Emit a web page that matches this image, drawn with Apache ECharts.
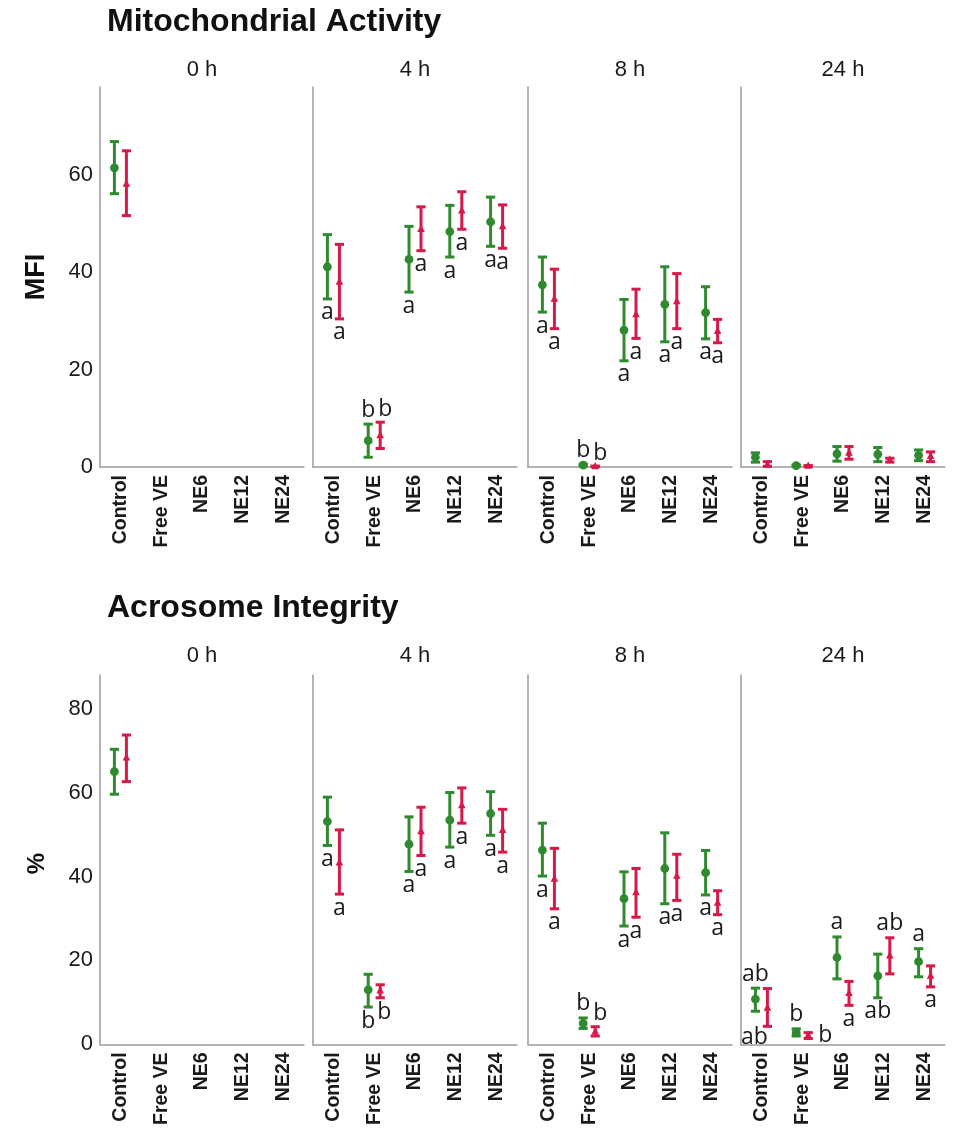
<!DOCTYPE html>
<html>
<head>
<meta charset="utf-8">
<script src="https://cdn.jsdelivr.net/npm/echarts@6/dist/echarts.min.js"></script>
<style>
  html, body { margin: 0; padding: 0; background: #fff; }
  #chart { width: 960px; height: 1128px; }
</style>
</head>
<body>
<div id="chart"></div>
<script>
// 类别与时间点
const categories = ['Control', 'Free VE', 'NE6', 'NE12', 'NE24'];
const timepoints = ['0 h', '4 h', '8 h', '24 h'];

// Mitochondrial Activity (MFI) — 每行一个时间点
const mitoGreenMean = [
  [61.4, null, null, null, null],
  [41.1, 5.4, 42.6, 48.3, 50.3],
  [37.4, 0.4, 28.1, 33.4, 31.7],
  [2.0, 0.3, 2.7, 2.6, 2.4]
];
const mitoGreenLow = [
  [56.1, null, null, null, null],
  [34.5, 2.0, 35.9, 43.1, 45.3],
  [31.8, 0.2, 21.8, 25.7, 26.3],
  [1.0, 0.2, 1.2, 1.1, 1.3]
];
const mitoGreenHigh = [
  [66.8, null, null, null, null],
  [47.7, 8.8, 49.4, 53.7, 55.4],
  [43.1, 0.6, 34.4, 41.1, 37.0],
  [2.9, 0.4, 4.2, 4.0, 3.5]
];
const mitoRedMean = [
  [58.1, null, null, null, null],
  [38.0, 6.5, 48.8, 52.6, 49.4],
  [34.5, 0.1, 31.3, 34.0, 27.9],
  [0.5, 0.2, 2.9, 1.5, 2.2]
];
const mitoRedLow = [
  [51.6, null, null, null, null],
  [30.4, 3.8, 44.4, 48.8, 44.9],
  [28.4, 0.05, 26.4, 28.4, 25.5],
  [0.15, 0.1, 1.6, 1.0, 1.1]
];
const mitoRedHigh = [
  [64.9, null, null, null, null],
  [45.7, 9.2, 53.4, 56.5, 53.8],
  [40.6, 0.2, 36.5, 39.7, 30.3],
  [1.1, 0.3, 4.2, 1.8, 3.1]
];
const mitoGreenLetters = [
  ['', '', '', '', ''],
  ['a', 'b', 'a', 'a', 'a'],
  ['a', 'b', 'a', 'a', 'a'],
  ['', '', '', '', '']
];
const mitoRedLetters = [
  ['', '', '', '', ''],
  ['a', 'b', 'a', 'a', 'a'],
  ['a', 'b', 'a', 'a', 'a'],
  ['', '', '', '', '']
];

// Acrosome Integrity (%)
const acroGreenMean = [
  [65.0, null, null, null, null],
  [53.1, 13.0, 47.7, 53.4, 55.0],
  [46.3, 5.0, 34.7, 41.9, 40.9],
  [10.8, 2.8, 20.7, 16.3, 19.7]
];
const acroGreenLow = [
  [59.6, null, null, null, null],
  [47.4, 8.9, 41.2, 47.0, 49.8],
  [40.1, 3.8, 28.2, 33.5, 35.6],
  [7.9, 2.0, 15.6, 11.1, 16.1]
];
const acroGreenHigh = [
  [70.3, null, null, null, null],
  [58.9, 16.7, 54.2, 60.0, 60.2],
  [52.7, 6.3, 41.1, 50.4, 46.2],
  [13.4, 3.7, 25.6, 21.5, 22.8]
];
const acroRedMean = [
  [68.3, null, null, null, null],
  [43.3, 12.8, 50.7, 56.9, 51.0],
  [39.4, 3.0, 36.2, 40.1, 33.7],
  [8.7, 2.2, 12.2, 21.1, 16.3]
];
const acroRedLow = [
  [62.6, null, null, null, null],
  [35.8, 11.1, 45.0, 52.7, 45.8],
  [32.3, 2.0, 30.3, 34.3, 30.9],
  [4.3, 1.4, 9.3, 16.8, 13.7]
];
const acroRedHigh = [
  [73.7, null, null, null, null],
  [51.1, 14.2, 56.5, 61.1, 56.0],
  [46.7, 4.2, 41.9, 45.3, 36.6],
  [13.3, 2.8, 15.0, 25.4, 18.7]
];
const acroGreenLetters = [
  ['', '', '', '', ''],
  ['a', 'b', 'a', 'a', 'a'],
  ['a', 'b', 'a', 'a', 'a'],
  ['ab', 'b', 'a', 'ab', 'a']
];
const acroRedLetters = [
  ['', '', '', '', ''],
  ['a', 'b', 'a', 'a', 'a'],
  ['a', 'b', 'a', 'a', 'a'],
  ['ab', 'b', 'a', 'ab', 'a']
];

// 字母标注的摆放方式（样式）
const mitoGreenPlace = [
  [], ['below', 'above', 'below', 'below', 'below'],
  ['below', 'above', 'below', 'below', 'below'], []
];
const mitoRedPlace = [
  [], ['below', 'aboveRight', 'below', 'below', 'below'],
  ['below', 'aboveRight', 'below', 'below', 'below'], []
];
const acroGreenPlace = [
  [], ['below', 'below', 'below', 'below', 'below'],
  ['below', 'above', 'below', 'below', 'below'],
  ['above', 'above', 'above', 'below', 'above']
];
const acroRedPlace = [
  [], ['below', 'belowRight', 'below', 'below', 'below'],
  ['below', 'aboveRight', 'below', 'below', 'below'],
  ['belowLeft', 'right', 'below', 'above', 'below']
];

const GREEN = '#2f8a2f';
const RED = '#d7194a';
const AXIS = '#9b9b9b';
const FONT = '"Liberation Sans", Arial, sans-serif';
const facetLeft = [100, 313, 528, 741];
const facetWidth = 204;
const rows = [
  { top: 87, height: 380, max: 78, title: 'Mitochondrial Activity', titleY: 22, facetY: 70, yName: 'MFI', nameFont: 'bold 27px' },
  { top: 675, height: 377, max: 88, title: 'Acrosome Integrity', titleY: 608, facetY: 656, yName: '%', nameFont: 'bold 24px' }
];
const rowData = [
  { gm: mitoGreenMean, gl: mitoGreenLow, gh: mitoGreenHigh, rm: mitoRedMean, rl: mitoRedLow, rh: mitoRedHigh,
    gLet: mitoGreenLetters, rLet: mitoRedLetters, gPos: mitoGreenPlace, rPos: mitoRedPlace },
  { gm: acroGreenMean, gl: acroGreenLow, gh: acroGreenHigh, rm: acroRedMean, rl: acroRedLow, rh: acroRedHigh,
    gLet: acroGreenLetters, rLet: acroRedLetters, gPos: acroGreenPlace, rPos: acroRedPlace }
];

function letterPos(place, x, pMean, pLow, pHigh) {
  switch (place) {
    case 'above': return [x, pHigh - 14];
    case 'aboveRight': return [x + 5, pHigh - 13];
    case 'right': return [x + 17, pMean];
    case 'belowLeft': return [x - 13, pLow + 11];
    case 'belowRight': return [x + 4, pLow + 15];
    default: return [x, pLow + 14];
  }
}

// 误差棒系列
function errorSeries(gridIdx, means, lows, highs, letters, places, color, marker, dx) {
  var data = [];
  categories.forEach(function (c, i) {
    if (means[i] != null) data.push([i, means[i], lows[i], highs[i]]);
  });
  return {
    type: 'custom',
    xAxisIndex: gridIdx,
    yAxisIndex: gridIdx,
    data: data,
    encode: { x: 0, y: [1, 2, 3] },
    clip: false,
    renderItem: function (params, api) {
      var i = api.value(0);
      var pm = api.coord([i, api.value(1)]);
      var pl = api.coord([i, api.value(2)]);
      var ph = api.coord([i, api.value(3)]);
      var x = pm[0] + dx;
      var ls = { stroke: color, lineWidth: 3 };
      var children = [
        { type: 'line', shape: { x1: x, y1: ph[1], x2: x, y2: pl[1] }, style: ls },
        { type: 'line', shape: { x1: x - 4.6, y1: ph[1], x2: x + 4.6, y2: ph[1] }, style: ls },
        { type: 'line', shape: { x1: x - 4.6, y1: pl[1], x2: x + 4.6, y2: pl[1] }, style: ls }
      ];
      if (marker === 'circle') {
        children.push({ type: 'circle', shape: { cx: x, cy: pm[1], r: 4.4 }, style: { fill: color } });
      } else {
        children.push({ type: 'polygon', shape: { points: [[x, pm[1] - 4.5], [x - 3.8, pm[1] + 2.8], [x + 3.8, pm[1] + 2.8]] }, style: { fill: color } });
      }
      var txt = letters[i];
      if (txt) {
        var p = letterPos(places[i], x, pm[1], pl[1], ph[1]);
        children.push({
          type: 'text',
          style: {
            text: txt, x: p[0], y: p[1],
            textAlign: 'center', textVerticalAlign: 'middle',
            font: '23px "Open Sans"', fill: '#1a1a1a'
          }
        });
      }
      return { type: 'group', children: children };
    }
  };
}

var grids = [], xAxes = [], yAxes = [], series = [], graphics = [];

rows.forEach(function (row, r) {
  var d = rowData[r];
  graphics.push({
    type: 'text', x: 107, y: row.titleY,
    style: { text: row.title, font: 'bold 32px ' + FONT, fill: '#111', textAlign: 'left', textVerticalAlign: 'middle' }
  });
  graphics.push({
    type: 'text', x: 37, y: row.top + row.height / 2, rotation: Math.PI / 2,
    style: { text: row.yName, font: row.nameFont + ' ' + FONT, fill: '#111', textAlign: 'center', textVerticalAlign: 'middle' }
  });
  timepoints.forEach(function (tp, t) {
    var g = r * 4 + t;
    grids.push({ left: facetLeft[t], top: row.top, width: facetWidth, height: row.height });
    graphics.push({
      type: 'text', x: facetLeft[t] + facetWidth / 2, y: row.facetY,
      style: { text: tp, font: '22px ' + FONT, fill: '#1a1a1a', textAlign: 'center', textVerticalAlign: 'middle' }
    });
    xAxes.push({
      type: 'category', gridIndex: g, data: categories, boundaryGap: true,
      axisLine: { show: true, lineStyle: { color: AXIS, width: 1.5 } },
      axisTick: { show: false },
      axisLabel: { interval: 0, rotate: 90, margin: 8, fontSize: 19.5, fontWeight: 'bold', color: '#1a1a1a', fontFamily: 'Liberation Sans' }
    });
    yAxes.push({
      type: 'value', gridIndex: g, min: 0, max: row.max, interval: 20,
      axisLine: { show: true, lineStyle: { color: AXIS, width: 1.5 } },
      axisTick: { show: false },
      splitLine: { show: false },
      axisLabel: {
        show: t === 0, margin: 7, fontSize: 22, color: '#1a1a1a', fontFamily: 'Liberation Sans',
        padding: [10, 0, 0, 0],
        formatter: function (v) { return v % 20 === 0 ? String(v) : ''; }
      }
    });
    series.push(errorSeries(g, d.gm[t], d.gl[t], d.gh[t], d.gLet[t], d.gPos[t], GREEN, 'circle', -6));
    series.push(errorSeries(g, d.rm[t], d.rl[t], d.rh[t], d.rLet[t], d.rPos[t], RED, 'triangle', 6));
  });
});

var chart = echarts.init(document.getElementById('chart'), null, { renderer: 'canvas' });
chart.setOption({
  animation: false,
  backgroundColor: '#fff',
  grid: grids,
  xAxis: xAxes,
  yAxis: yAxes,
  series: series,
  graphic: graphics
});
</script>
</body>
</html>
